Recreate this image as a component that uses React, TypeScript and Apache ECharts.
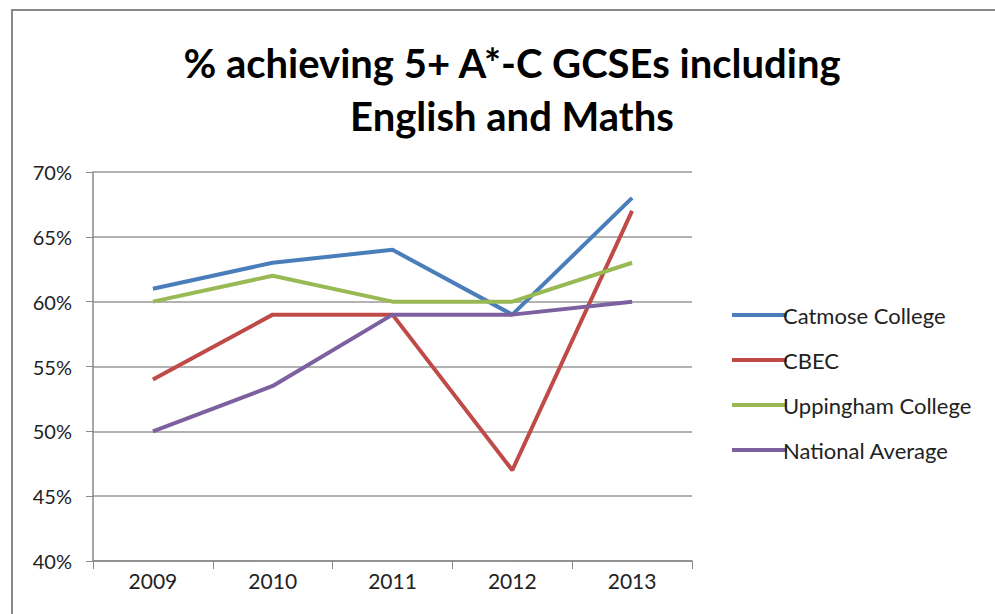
import React, { useEffect, useRef } from "react";
import * as echarts from "echarts";

const years = ["2009", "2010", "2011", "2012", "2013"];
const catmose = [61, 63, 64, 59, 68];
const cbec = [54, 59, 59, 47, 67];
const uppingham = [60, 62, 60, 60, 63];
const national = [50, 53.5, 59, 59, 60];
const seriesNames = ["Catmose College", "CBEC", "Uppingham College", "National Average"];
const colors = ["#4a7ebb", "#be4b48", "#98b954", "#7d60a0"];

export default function App() {
  const ref = useRef<HTMLDivElement>(null);
  useEffect(() => {
    const chart = echarts.init(ref.current!, null, { renderer: "svg" });
    const data = [catmose, cbec, uppingham, national];
    chart.setOption({
      animation: false,
      backgroundColor: "#ffffff",
      title: {
        text: "% achieving 5+ A*-C GCSEs including\nEnglish and Maths",
        left: 507,
        textAlign: "center",
        top: 31,
        textStyle: {
          fontFamily: "Lato",
          fontWeight: "bold",
          fontSize: 40,
          lineHeight: 53,
          color: "#000000",
        },
      },
      legend: {
        orient: "vertical",
        left: 727,
        top: 299,
        itemWidth: 55,
        itemHeight: 4,
        itemGap: 23,
        icon: "rect",
        data: seriesNames,
        textStyle: { fontFamily: "Lato", fontSize: 22, color: "#222222", padding: [0, 0, 0, -9] },
      },
      grid: { left: 93, right: 303, top: 172, bottom: 53 },
      xAxis: {
        type: "category",
        data: years,
        boundaryGap: true,
        axisLine: { lineStyle: { color: "#888888", width: 1.5 } },
        axisTick: { show: true, length: 8, lineStyle: { color: "#888888" } },
        axisLabel: { fontFamily: "Lato", fontSize: 21, color: "#222222", margin: 9 },
      },
      yAxis: {
        type: "value",
        min: 40,
        max: 70,
        interval: 5,
        axisLine: { show: true, lineStyle: { color: "#888888", width: 1.5 } },
        axisTick: { show: true, length: 7, lineStyle: { color: "#888888" } },
        splitLine: { lineStyle: { color: "#999999", width: 1.5 } },
        axisLabel: {
          fontFamily: "Lato",
          fontSize: 20,
          color: "#222222",
          margin: 21,
          formatter: (v: number) => v + "%",
        },
      },
      series: data.map((d, i) => ({
        name: seriesNames[i],
        type: "line",
        data: d,
        showSymbol: false,
        symbol: "none",
        lineStyle: { color: colors[i], width: 4 },
        itemStyle: { color: colors[i] },
      })),
      graphic: [
        {
          type: "rect",
          shape: { x: 12, y: 10, width: 1100, height: 800 },
          style: { fill: "none", stroke: "#888888", lineWidth: 2 },
          silent: true,
        },
      ],
    });
    return () => chart.dispose();
  }, []);
  return (
    <div
      ref={ref}
      style={{ position: "fixed", left: 0, top: 0, width: 995, height: 614 }}
    />
  );
}
